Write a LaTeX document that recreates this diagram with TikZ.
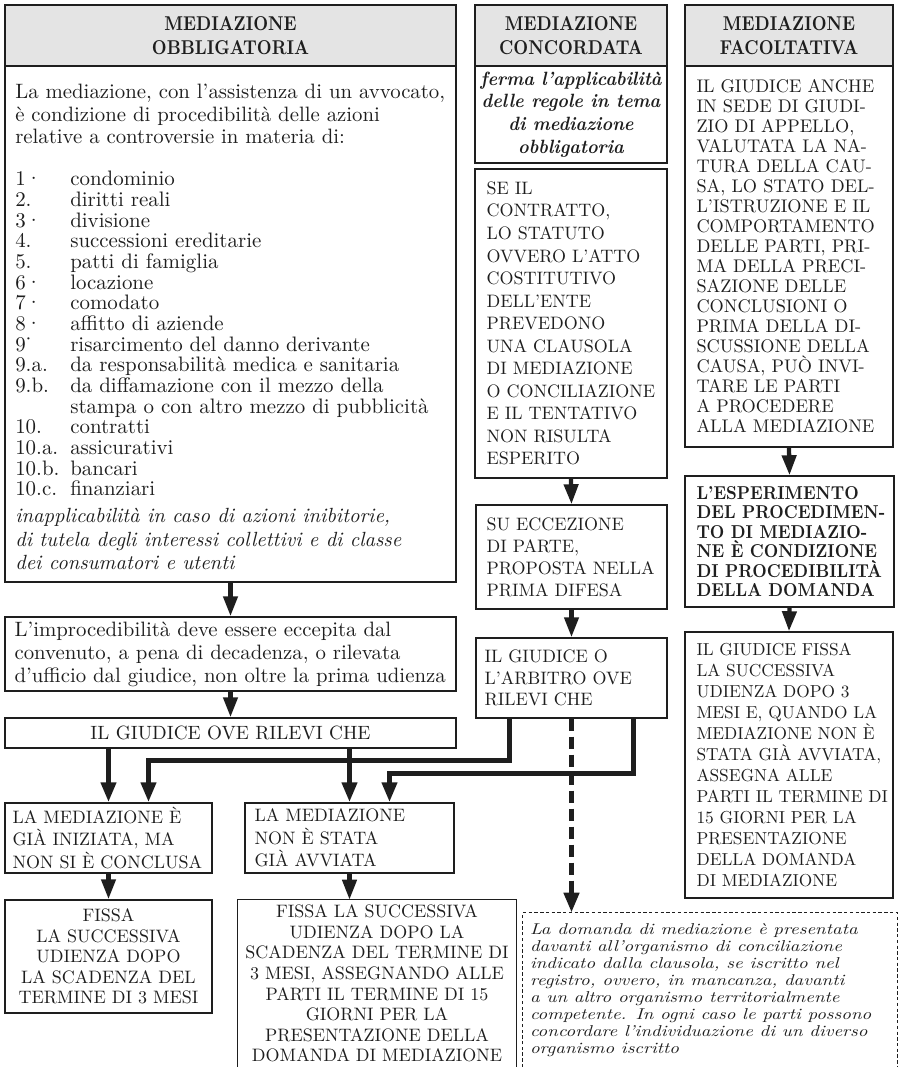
\documentclass[tikz,border=0pt]{standalone}
\usepackage{fontspec}
\setmainfont{lmroman10-regular.otf}[ItalicFont=lmroman10-italic.otf,BoldFont=lmroman10-bold.otf,BoldItalicFont=lmroman10-bolditalic.otf]
\usetikzlibrary{arrows.meta,fit,calc}
\newfontfamily\widelmit[FakeStretch=1.2]{lmroman10-italic.otf}
\newfontfamily\hdrbf[FakeStretch=0.86]{lmroman10-bold.otf}
\newfontfamily\espbf[FakeStretch=0.9]{lmroman10-bold.otf}
\newfontfamily\bfitlm[FakeStretch=0.94]{lmroman10-bolditalic.otf}
\newcommand\fsz[2]{\fontsize{#1pt}{#2pt}\selectfont}
\newcommand\nbr[1]{\makebox[41.25pt][l]{#1}}
\definecolor{hdrgray}{HTML}{E4E4E4}
\definecolor{ink}{HTML}{1E1E1E}
\begin{document}
\begin{tikzpicture}[x=0.75pt,y=-0.75pt,
  frame/.style={draw=ink,line width=1.1pt,inner sep=0pt},
  openbox/.style={inner sep=0pt},
  hdr/.style={frame,fill=hdrgray},
  txt/.style={inner sep=0pt,text=ink,align=left},
  ctxt/.style={inner sep=0pt,text=ink,align=center},
  arr/.style={draw=ink,line width=3.2pt,-{Triangle[length=15pt,width=10.5pt]}},
  link/.style={draw=ink,line width=3.8pt,-{Triangle[length=15pt,width=11pt]}},
  dlink/.style={link,dash pattern=on 9pt off 4.5pt},
  hdrfont/.style={font={\hdrbf\fsz{15}{18}}},
  capfont/.style={font={\fsz{13.5}{#1}}},
]
\useasboundingbox (0,0) rectangle (899,1067);

% ---------- column 1 ----------
\node[hdr,fit={(5,5)(456,66)}] (hdrA) {};
\node[ctxt,hdrfont] (hdrAt) at (hdrA.center) {MEDIAZIONE\\OBBLIGATORIA};
\node[frame,fit={(5,66)(456,582)}] (mainA) {};
\node[txt,anchor=north west,font={\fsz{15.6}{16.9}}] (mainAp) at (15,84)
 {La mediazione, con l’assistenza di un avvocato,\\
  è condizione di procedibilità delle azioni\\
  relative a controversie in materia di:};
\node[txt,anchor=north west,font={\fsz{15.7}{15.5}}] (mainAl) at (15,171)
 {\nbr{1·}condominio\\
  \nbr{2.}diritti reali\\
  \nbr{3·}divisione\\
  \nbr{4.}successioni ereditarie\\
  \nbr{5.}patti di famiglia\\
  \nbr{6·}locazione\\
  \nbr{7·}comodato\\
  \nbr{8·}affitto di aziende\\
  \nbr{9˙}risarcimento del danno derivante\\
  \nbr{9.a.}da responsabilità medica e sanitaria\\
  \nbr{9.b.}da diffamazione con il mezzo della\\
  \nbr{}stampa o con altro mezzo di pubblicità\\
  \nbr{10.}contratti\\
  \nbr{10.a.}assicurativi\\
  \nbr{10.b.}bancari\\
  \nbr{10.c.}finanziari};
\node[txt,anchor=north west,font={\itshape\fsz{15.4}{17.6}}] (mainAi) at (15,508)
 {inapplicabilità in caso di azioni inibitorie,\\
  di tutela degli interessi collettivi e di classe\\
  dei consumatori e utenti};

\node[frame,fit={(5,617)(456,691)}] (impA) {};
\node[txt,anchor=west,font={\fsz{15.6}{17.2}}] (impAt) at ($(impA.west)+(10,0)$)
 {L’improcedibilità deve essere eccepita dal\\
  convenuto, a pena di decadenza, o rilevata\\
  d’ufficio dal giudice, non oltre la prima udienza};

\node[frame,fit={(5,718)(456,748)}] (giud) {};
\node[ctxt,font={\fsz{14.4}{16}}] (giudt) at (giud.center) {IL GIUDICE OVE RILEVI CHE};

\node[frame,fit={(5,803)(212,873)}] (medA) {};
\node[txt,anchor=west,capfont=16.9] (medAt) at ($(medA.west)+(8,0)$)
 {LA MEDIAZIONE È\\GIÀ INIZIATA, MA\\NON SI È CONCLUSA};
\node[frame,fit={(245,803)(454,873)}] (medB) {};
\node[txt,anchor=west,capfont=16.9] (medBt) at ($(medB.west)+(10,0)$)
 {LA MEDIAZIONE\\NON È STATA\\GIÀ AVVIATA};

\node[frame,fit={(5,900)(212,1013)}] (fisA) {};
\node[ctxt,capfont=15.4] (fisAt) at (fisA.center)
 {FISSA\\LA SUCCESSIVA\\UDIENZA DOPO\\LA SCADENZA DEL\\TERMINE DI 3 MESI};
\node[openbox,fit={(238,900)(516,1067)}] (fisB) {};
\draw[draw=ink,line width=1.1pt] (fisB.south west) -- (fisB.north west) -- (fisB.north east) -- (fisB.south east);
\node[ctxt,capfont=15.4] (fisBt) at (fisB.center)
 {FISSA LA SUCCESSIVA\\UDIENZA DOPO LA\\SCADENZA DEL TERMINE DI\\3 MESI, ASSEGNANDO ALLE\\PARTI IL TERMINE DI 15\\GIORNI PER LA\\PRESENTAZIONE DELLA\\DOMANDA DI MEDIAZIONE};

\node[openbox,fit={(523,913)(897,1067)}] (dbox) {};
\draw[draw=ink,line width=0.9pt,dash pattern=on 2.5pt off 1.8pt] (dbox.south west) -- (dbox.north west) -- (dbox.north east) -- (dbox.south east);
\node[txt,anchor=west,font={\widelmit\fsz{11.8}{12.8}}] (dboxt) at ($(dbox.west)+(7,0)$)
 {La domanda di mediazione è presentata\\
  davanti all’organismo di conciliazione\\
  indicato dalla clausola, se iscritto nel\\
  registro, ovvero, in mancanza, davanti\\
  a un altro organismo territorialmente\\
  competente. In ogni caso le parti possono\\
  concordare l’individuazione di un diverso\\
  organismo iscritto};

% ---------- column 2 ----------
\node[hdr,fit={(475,5)(667,66)}] (hdrB) {};
\node[ctxt,hdrfont] (hdrBt) at (hdrB.center) {MEDIAZIONE\\CONCORDATA};
\node[frame,fit={(475,66)(667,163)}] (itB) {};
\node[ctxt,font={\bfitlm\fsz{14.4}{17}}] (itBt) at (itB.center)
 {ferma l’applicabilità\\delle regole in tema\\di mediazione\\obbligatoria};
\node[frame,fit={(475,169)(667,478)}] (seil) {};
\node[txt,anchor=west,capfont=16.9] (seilt) at ($(seil.west)+(12,0)$)
 {SE IL\\CONTRATTO,\\LO STATUTO\\OVVERO L’ATTO\\COSTITUTIVO\\DELL’ENTE\\PREVEDONO\\UNA CLAUSOLA\\DI MEDIAZIONE\\O CONCILIAZIONE\\E IL TENTATIVO\\NON RISULTA\\ESPERITO};
\node[frame,fit={(476,505)(667,609)}] (suecc) {};
\node[txt,anchor=west,capfont=16.5] (suecct) at ($(suecc.west)+(11,0)$)
 {SU ECCEZIONE\\DI PARTE,\\PROPOSTA NELLA\\PRIMA DIFESA};
\node[frame,fit={(476,638)(667,718)}] (arb) {};
\node[txt,anchor=west,capfont=16.1] (arbt) at ($(arb.west)+(9,0)$)
 {IL GIUDICE O\\L’ARBITRO OVE\\RILEVI CHE};

% ---------- column 3 ----------
\node[hdr,fit={(685,5)(893,66)}] (hdrC) {};
\node[ctxt,hdrfont] (hdrCt) at (hdrC.center) {MEDIAZIONE\\FACOLTATIVA};
\node[frame,fit={(685,66)(893,447)}] (facC) {};
\node[txt,anchor=west,font={\fsz{13.7}{15}}] (facCt) at ($(facC.west)+(12,0)$)
 {IL GIUDICE ANCHE\\IN SEDE DI GIUDI-\\ZIO DI APPELLO,\\VALUTATA LA NA-\\TURA DELLA CAU-\\SA, LO STATO DEL-\\L’ISTRUZIONE E IL\\COMPORTAMENTO\\DELLE PARTI, PRI-\\MA DELLA PRECI-\\SAZIONE DELLE\\CONCLUSIONI O\\PRIMA DELLA DI-\\SCUSSIONE DELLA\\CAUSA, PUÒ INVI-\\TARE LE PARTI\\A PROCEDERE\\ALLA MEDIAZIONE};
\node[frame,fit={(685,476)(894,607)}] (esp) {};
\node[txt,anchor=west,font={\espbf\fsz{14}{14.6}}] (espt) at ($(esp.west)+(12,0)$)
 {L’ESPERIMENTO\\DEL PROCEDIMEN-\\TO DI MEDIAZIO-\\NE È CONDIZIONE\\DI PROCEDIBILITÀ\\DELLA DOMANDA};
\node[frame,fit={(685,632)(893,898)}] (fisC) {};
\node[txt,anchor=west,font={\fsz{13}{15.7}}] (fisCt) at ($(fisC.west)+(12,0)$)
 {IL GIUDICE FISSA\\LA SUCCESSIVA\\UDIENZA DOPO 3\\MESI E, QUANDO LA\\MEDIAZIONE NON È\\STATA GIÀ AVVIATA,\\ASSEGNA ALLE\\PARTI IL TERMINE DI\\15 GIORNI PER LA\\PRESENTAZIONE\\DELLA DOMANDA\\DI MEDIAZIONE};

% ---------- connectors ----------
\draw[arr] (mainA.south) -- (impA.north);
\draw[arr] (impA.south) -- (giud.north);
\draw[link] (giud.south -| medA.north) -- (medA.north);
\draw[link] (giud.south -| medB.north) -- (medB.north);
\draw[link] ($(arb.south west)+(34,0)$) -- ++(0,42) -| ($(medA.north)+(40,0)$);
\draw[link] ($(arb.south east)+(-34,0)$) -- ++(0,55) -| ($(medB.north)+(40,0)$);
\draw[dlink] (arb.south) -- (arb.south |- dbox.north);
\draw[arr] (medA.south) -- (fisA.north);
\draw[arr] (medB.south) -- (medB.south |- fisB.north);
\draw[arr] (seil.south) -- (suecc.north);
\draw[arr] (suecc.south) -- (arb.north);
\draw[arr] (facC.south) -- (esp.north);
\draw[arr] (esp.south) -- (fisC.north);
\end{tikzpicture}
\end{document}
